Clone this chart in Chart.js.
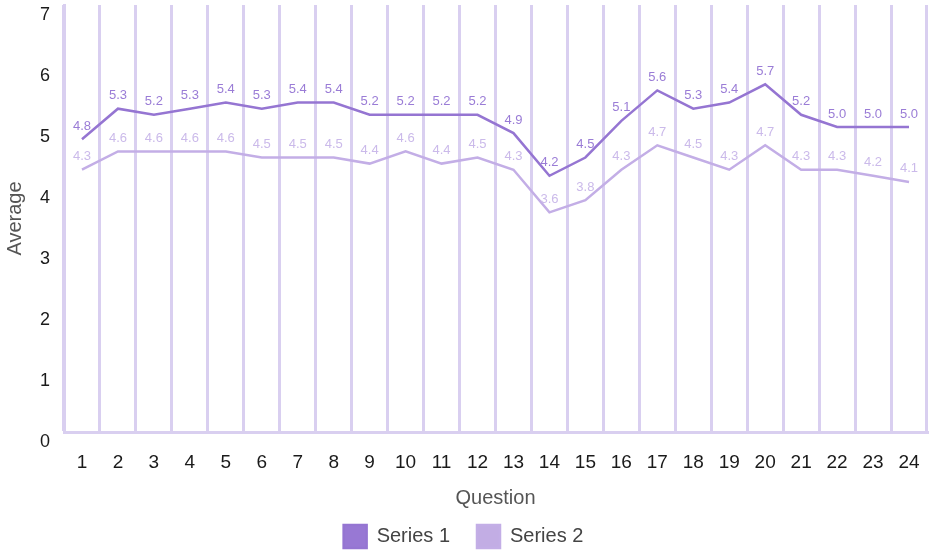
<!DOCTYPE html>
<html>
<head>
<meta charset="utf-8">
<script src="https://cdn.jsdelivr.net/npm/chart.js@4"></script>
<style>
  html, body { margin: 0; padding: 0; background: #fff; }
  #wrap { width: 929px; height: 552px; }
</style>
</head>
<body>
<div id="wrap"><canvas id="avgChart"></canvas></div>
<script>
var questions = ["1", "2", "3", "4", "5", "6", "7", "8", "9", "10", "11", "12",
  "13", "14", "15", "16", "17", "18", "19", "20", "21", "22", "23", "24"];
var series1 = [4.8, 5.3, 5.2, 5.3, 5.4, 5.3, 5.4, 5.4, 5.2, 5.2, 5.2, 5.2,
  4.9, 4.2, 4.5, 5.1, 5.6, 5.3, 5.4, 5.7, 5.2, 5.0, 5.0, 5.0];
var series2 = [4.3, 4.6, 4.6, 4.6, 4.6, 4.5, 4.5, 4.5, 4.4, 4.6, 4.4, 4.5,
  4.3, 3.6, 3.8, 4.3, 4.7, 4.5, 4.3, 4.7, 4.3, 4.3, 4.2, 4.1];

var fontFamily = "'Liberation Sans', Arial, sans-serif";
var gridColor = "#d9cff0";

// simple value labels above each point
var valueLabels = {
  id: "valueLabels",
  afterDatasetsDraw: function (chart) {
    var ctx = chart.ctx;
    ctx.save();
    ctx.font = "13px " + fontFamily;
    ctx.textAlign = "center";
    ctx.textBaseline = "middle";
    chart.data.datasets.forEach(function (ds, i) {
      var meta = chart.getDatasetMeta(i);
      ctx.fillStyle = ds.labelColor;
      meta.data.forEach(function (pt, j) {
        ctx.fillText(ds.data[j].toFixed(1), pt.x, pt.y - 13);
      });
    });
    ctx.restore();
  },
};

var ctx = document.getElementById("avgChart");
var avgChart = new Chart(ctx, {
  type: "line",
  data: {
    labels: questions,
    datasets: [
      {
        label: "Series 1",
        data: series1,
        borderColor: "#9575d2",
        backgroundColor: "#9878d4",
        labelColor: "#9a7cd6",
        borderWidth: 2.5,
        pointRadius: 0,
        tension: 0,
      },
      {
        label: "Series 2",
        data: series2,
        borderColor: "#c3aee6",
        backgroundColor: "#c2ade4",
        labelColor: "#cbbaea",
        borderWidth: 2.5,
        pointRadius: 0,
        tension: 0,
      },
    ],
  },
  plugins: [valueLabels],
  options: {
    responsive: true,
    maintainAspectRatio: false,
    animation: false,
    layout: { padding: { left: 0, right: 2, top: 5, bottom: -6 } },
    plugins: {
      tooltip: { enabled: false },
      legend: {
        position: "bottom",
        labels: {
          boxWidth: 23,
          boxHeight: 23,
          padding: 27,
          color: "#444",
          font: { family: fontFamily, size: 20 },
        },
      },
    },
    scales: {
      x: {
        offset: true,
        grid: { offset: true, color: gridColor, lineWidth: 3, drawTicks: false },
        border: { color: gridColor, width: 3 },
        ticks: { color: "#1a1a1a", font: { family: fontFamily, size: 19 }, padding: 19, maxRotation: 0 },
        title: {
          display: true,
          text: "Question",
          color: "#555",
          font: { family: fontFamily, size: 20 },
          padding: { top: 0, bottom: -12 },
        },
        afterFit: function (scale) {
          scale.height = 66;
          scale.paddingLeft = 0;
          scale.paddingRight = 0;
        },
      },
      y: {
        min: 0,
        max: 7,
        grid: { display: false },
        border: { color: gridColor, width: 3 },
        ticks: {
          stepSize: 1,
          color: "#1a1a1a",
          font: { family: fontFamily, size: 18 },
          padding: 6,
          labelOffset: 10,
        },
        title: {
          display: true,
          text: "Average",
          color: "#555",
          font: { family: fontFamily, size: 20 },
          padding: { top: 3, bottom: 8 },
        },
        afterFit: function (scale) {
          scale.width = 64;
          scale.paddingTop = 0;
          scale.paddingBottom = 0;
        },
      },
    },
  },
});
</script>
</body>
</html>
